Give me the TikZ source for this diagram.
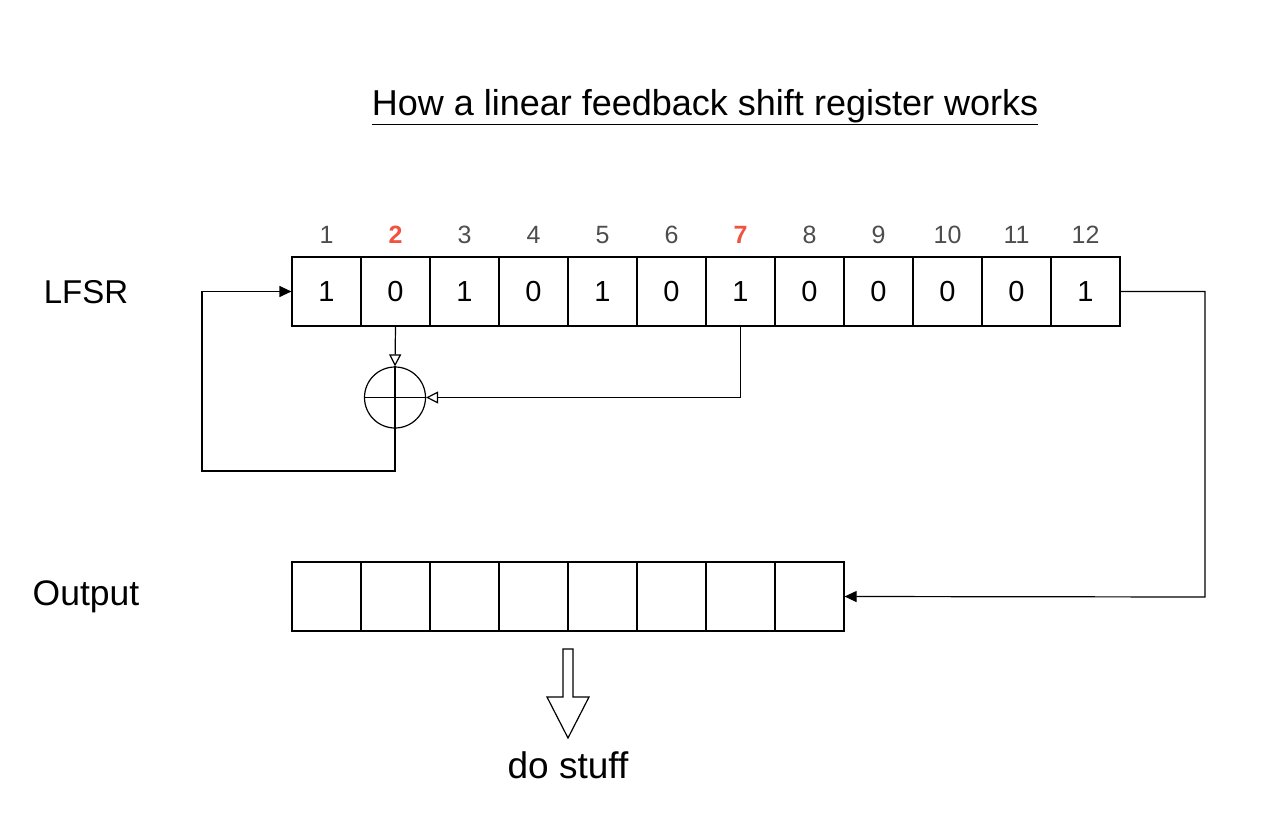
\documentclass[tikz,border=0pt]{standalone}
\usepackage{fontspec}
\setmainfont{Liberation Sans}
\usetikzlibrary{arrows.meta}
\definecolor{numgray}{RGB}{77,77,77}
\definecolor{tapred}{RGB}{240,84,64}
\tikzset{
  cellbox/.style={draw=black, line width=1.2pt, minimum width=69pt, minimum height=69pt, inner sep=0pt, font=\fontsize{29}{33}\selectfont},
  numlabel/.style={text=numgray, font=\fontsize{25}{30}\selectfont, inner sep=0pt},
  taplabel/.style={text=tapred, font=\fontsize{25}{30}\selectfont\bfseries, inner sep=0pt},
  sidelabel/.style={font=\fontsize{33}{38}\selectfont, inner sep=0pt},
  wire/.style={draw=black, line width=1.2pt},
  openarr/.style={wire, -{Triangle[open, length=12pt, width=12pt]}},
  fullarr/.style={wire, -{Triangle[length=12pt, width=11pt]}},
}
\begin{document}
\begin{tikzpicture}[x=1pt, y=-1pt]
\useasboundingbox (0,0) rectangle (1280,818);
% title
\node[font=\fontsize{36}{42}\selectfont, inner sep=0pt] (title) at (705,107) {\underline{How a linear feedback shift register works}};
% side labels
\node[sidelabel] (lfsr) at (86,292) {LFSR};
\node[sidelabel, font=\fontsize{35.5}{40}\selectfont] (outl) at (86,597) {Output};
% register cells
\foreach \i/\v in {1/1,2/0,3/1,4/0,5/1,6/0,7/1,8/0,9/0,10/0,11/0,12/1} {
  \node[cellbox] (r\i) at ({257.5+69*\i},291.5) {\v};
}
% index labels
\foreach \i in {1,3,4,5,6,8,9,10,11,12} {
  \node[numlabel] (n\i) at ({257.5+69*\i},235) {\i};
}
\node[taplabel] (n2) at ({257.5+69*2},235) {2};
\node[taplabel] (n7) at ({257.5+69*7},235) {7};
% output cells
\foreach \i in {1,...,8} {
  \node[cellbox] (o\i) at ({257.5+69*\i},596.5) {};
}
% xor
\node[draw=black, line width=1.2pt, circle, minimum size=61pt, inner sep=0pt] (xor) at (395,397.5) {};
\draw[wire] (xor.north) -- (xor.south) (xor.west) -- (xor.east);
% connectors
\draw[openarr] (r2.south) -- (xor.north);
\draw[openarr] (r7.south) |- (xor.east);
\coordinate (fbc) at (202,471);
\draw[fullarr] (xor.south) |- (fbc) |- (r1.west);
\coordinate (rc) at (1205,597);
\draw[fullarr] (r12.east) -| (rc) -- (o8.east);
% big output arrow
\draw[draw=black, line width=1.2pt, fill=white]
  (563,649) -- (573,649) -- (573,697) -- (589,697) -- (568,738) -- (547,697) -- (563,697) -- cycle;
\node[font=\fontsize{37}{42}\selectfont, inner sep=0pt] (dostuff) at (568,765) {do stuff};
\end{tikzpicture}
\end{document}
